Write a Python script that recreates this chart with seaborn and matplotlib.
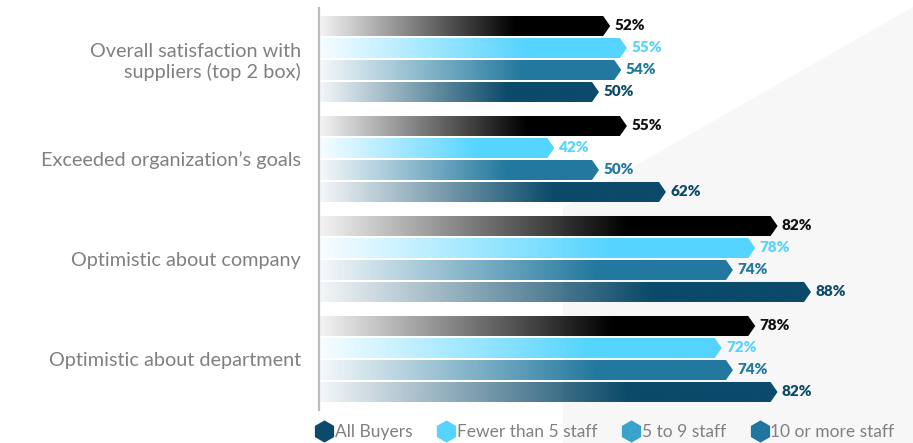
import numpy as np
import pandas as pd
import matplotlib
matplotlib.use("Agg")
import matplotlib.pyplot as plt
from matplotlib.patches import Polygon
from matplotlib.lines import Line2D
from matplotlib.colors import to_rgb
import seaborn as sns

# ---- data ----
categories = [
    "Overall satisfaction with\nsuppliers (top 2 box)",
    "Exceeded organization\u2019s goals",
    "Optimistic about company",
    "Optimistic about department",
]
groups = ["All Buyers", "Fewer than 5 staff", "5 to 9 staff", "10 or more staff"]
all_buyers = [52, 55, 82, 78]
fewer_than_5 = [55, 42, 78, 72]
five_to_9 = [54, 50, 74, 74]
ten_or_more = [50, 62, 88, 82]

bar_colors = ["#000000", "#55d4ff", "#22789e", "#0b4a6a"]
label_colors = ["#111111", "#55d4ff", "#22789e", "#0b4a6a"]
legend_colors = ["#0b4a6b", "#55d4ff", "#3aa3cc", "#1f74a0"]

df = pd.DataFrame({
    "category": np.repeat(categories, len(groups)).tolist(),
    "group": groups * len(categories),
    "value": [v for row in zip(all_buyers, fewer_than_5, five_to_9, ten_or_more) for v in row],
})

sns.set_theme(style="white")
plt.rcParams["font.family"] = ["Lato", "DejaVu Sans"]

W, H = 913, 443
fig = plt.figure(figsize=(W / 100, H / 100), dpi=100)
fig.patch.set_facecolor("white")

# light decorative backdrop on the right, behind everything
bg = Polygon([(563 / W, 1 - 207 / H), (913 / W, 1 - 7 / H), (1, 0), (563 / W, 0)],
             closed=True, transform=fig.transFigure, facecolor="#f7f7f7",
             edgecolor="none", zorder=-10)
fig.patches.append(bg)

ax_left, ax_top, ax_bottom = 319, 8, 410
ax = fig.add_axes([ax_left / W, 1 - ax_bottom / H, (W - ax_left) / W, (ax_bottom - ax_top) / H])
ax.patch.set_alpha(0)
ax.set_zorder(1)

sns.barplot(data=df, y="category", x="value", hue="group", order=categories,
            hue_order=groups, orient="h", width=0.88, gap=0.09, ax=ax,
            legend=False, errorbar=None)

px_per_unit = 5.58
xmin = -1 / px_per_unit
xmax = xmin + (W - ax_left) / px_per_unit
ax.set_xlim(xmin, xmax)
ax.set_ylim(3.51, -0.51)

tip = 7 / px_per_unit  # chevron point length in data units

for container, col, lcol in zip(ax.containers, bar_colors, label_colors):
    rgb = np.array(to_rgb(col))
    for patch in container:
        x0, y0 = patch.get_x(), patch.get_y()
        w, h = patch.get_width(), patch.get_height()
        patch.set_facecolor("none")
        patch.set_edgecolor("none")
        x1 = x0 + w
        # gradient: fades in from the left over the first two thirds
        n = 256
        t = np.linspace(0, 1, n)
        alpha = np.clip(0.05 + 0.95 * t / 0.67, 0, 1)
        img = np.zeros((1, n, 4))
        img[0, :, :3] = rgb
        img[0, :, 3] = alpha
        im = ax.imshow(img, extent=(x0, x1, y0 + h, y0), aspect="auto",
                       interpolation="bilinear", zorder=2)
        shape = Polygon([(x0, y0), (x1 - tip, y0), (x1, y0 + h / 2),
                         (x1 - tip, y0 + h), (x0, y0 + h)], closed=True,
                        facecolor="none", edgecolor="none", transform=ax.transData)
        ax.add_patch(shape)
        im.set_clip_path(shape)
    ax.bar_label(container, fmt="{:.0f}%", padding=3, color=lcol,
                 fontsize=11, fontweight="heavy")

ax.set_xlim(xmin, xmax)
ax.set_ylim(3.51, -0.51)
ax.set_xlabel("")
ax.set_ylabel("")
ax.set_xticks([])
ax.tick_params(axis="y", length=0, pad=13, labelsize=14.3, labelcolor="#808080")
for lbl in ax.get_yticklabels():
    lbl.set_horizontalalignment("right")
    lbl.set_multialignment("right")
for s in ["top", "right", "bottom"]:
    ax.spines[s].set_visible(False)
ax.spines["left"].set_color("#bdbdbd")
ax.spines["left"].set_linewidth(1.6)

handles = [Line2D([], [], marker="h", linestyle="none", markersize=16,
                  markerfacecolor=c, markeredgecolor="none") for c in legend_colors]
leg = fig.legend(handles, groups, loc="center", bbox_to_anchor=(605 / W, 1 - 432 / H),
                 ncol=4, frameon=False, fontsize=12.5, handletextpad=0.1,
                 columnspacing=1.45, handlelength=1.0, borderaxespad=0)
for t in leg.get_texts():
    t.set_color("#808080")

fig.savefig("out.png", dpi=100, facecolor=fig.get_facecolor())
